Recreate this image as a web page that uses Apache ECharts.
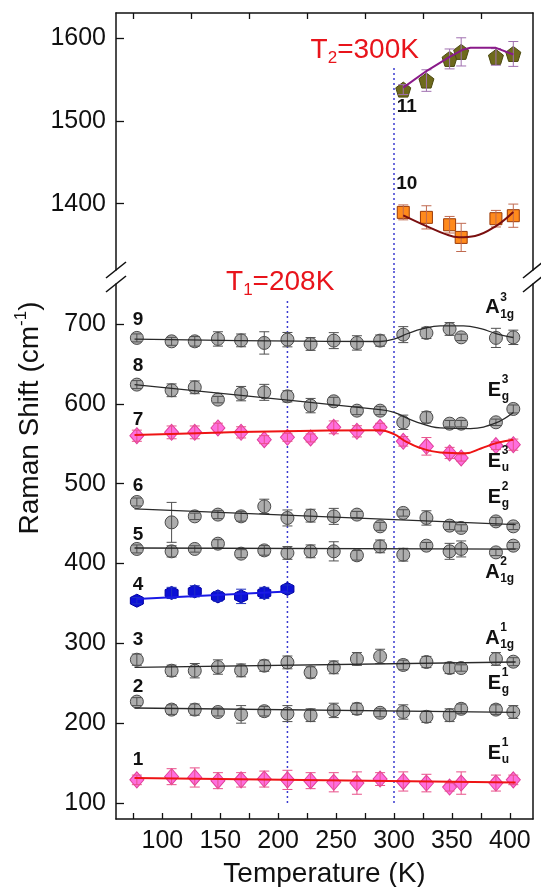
<!DOCTYPE html>
<html><head><meta charset="utf-8">
<script src="https://cdn.jsdelivr.net/npm/echarts@6/dist/echarts.min.js"></script>
<style>html,body{margin:0;padding:0;background:#fff}#c{width:541px;height:887px}</style>
</head><body><div id="c"></div>
<script>
// ---------- data ----------
const temps = [78,108,128,148,168,188,208,228,248,268,288,308,328,348,358,388,403];
const tempsLow = [78,108,128,148,168,188,208];
const tempsHigh = [308,328,348,358,388,403];

const s1 = [129,133,132,128,129,130,129,128,126,125,130,127,125,120,125,125,129];
const e1 = [6,10,12,10,9,10,12,10,12,14,8,12,11,5,14,10,6];
const s2 = [227,217,217,214,211,215,212,210,216,218,213,214,208,210,218,217,214];
const e2 = [5,6,7,5,11,6,10,8,9,7,5,9,7,8,6,6,8];
const s3 = [279.5,265.7,265.7,270.3,266.1,272,276.1,263.6,269.9,280.4,283.6,272.9,276.6,269.1,269.1,280.4,277];
const e3 = [7,7,9,9,8,7,8,7,8,8,9,6,7,7,4,8,5];
const s4 = [353.4,363.1,365.1,358.8,358.8,363.1,368.1];
const e4 = [4,7,7,6,9,7,5];
const s5 = [418.2,415.2,418.2,424.8,412.3,416.4,413.2,415.2,415.2,410.2,421.4,411,422.3,415.2,418.2,413.9,422.3];
const e5 = [5,7,4,5,5,6,8,8,12,6,8,8,4,10,10,4,4];
const s6 = [477,451.5,459,461.2,459,471.5,457,459.9,459,461.2,446.5,463.3,457,447.4,444.5,452.7,446.5];
const e6 = [5,25,4,5,6,9,10,8,10,4,5,4,9,5,4,5,4];
const s7 = [560,564.2,564.2,569.7,564.2,555.1,558,557.2,570.5,565.5,570.5,553,546.7,538.4,532.2,547.6,548.8];
const e7 = [7,8,8,6,7,5,5,5,8,7,5,6,11,7,4,5,7];
const s8 = [624,616.9,620.6,605.2,612.7,614.3,609.3,597.7,603.1,591.4,591.4,576.8,583,575.1,575.1,576.8,593.5];
const e8 = [5,8,8,4,9,10,7,9,5,5,5,9,7,4,4,4,5];
const s9 = [682.5,678.2,678.2,681.2,679.4,676.2,680.3,674.9,679.1,676.2,679.1,686.6,688.7,693.7,683.2,682.5,683.2];
const e9 = [5,5,6,9,8,14,9,8,10,9,7,10,7,8,4,12,9];
const s10 = [1389.5,1383.5,1374.6,1359.3,1381.9,1385.5];
const e10 = [9,14,10,17,10,14];
const s11 = [1537.6,1548.5,1574.6,1583.1,1577,1580.6];
const e11 = [6,13,12,17,10,15];

const fit1 = [[76,131.3],[405,125.8]];
const fit2 = [[76,219],[405,213.5]];
const fit3 = [[76,269.9],[405,276.6]];
const fit4 = [[78,355.5],[208,365]];
const fit5 = [[76,419.4],[405,418]];
const fit6 = [[76,468.3],[405,448.6]];
const fit7 = [[76,561],[288,567],[300,562],[310,553],[322,545],[340,539],[362,538],[375,544],[389,551],[403,555]];
const fit8 = [[76,624],[288,592.7],[300,589.3],[318,578],[340,569.7],[366,569],[388,576],[403,589]];
const fit9 = [[76,681],[288,678],[300,681],[312,688],[325,694],[340,697.5],[360,697.5],[375,694],[388,688],[403,683]];
const fit10 = [[308,1386],[328,1373],[345,1363],[356,1359.5],[370,1361],[388,1373],[403,1390]];
const fit11 = [[308,1540],[328,1560],[348,1577],[360,1586],[366,1588],[388,1588],[403,1580]];

const T1 = 208, T2 = 300;
const xTickLabels = [100,150,200,250,300,350,400];
const xTicks = [75,100,125,150,175,200,225,250,275,300,325,350,375,400];
const topTicks = [75,125,175,225,275,325,375];
const yTicksLow = [100,200,300,400,500,600,700];
const yTicksHigh = [1400,1500,1600];

const modeNums = [
  {t:'9',x:79,y:705,g:1},{t:'8',x:79,y:647,g:1},{t:'7',x:79,y:580,g:1},
  {t:'6',x:79,y:497,g:1},{t:'5',x:79,y:436,g:1},{t:'4',x:79,y:373,g:1},
  {t:'3',x:79,y:305,g:1},{t:'2',x:79,y:246,g:1},{t:'1',x:79,y:154,g:1},
  {t:'11',x:311,y:1517,g:0},{t:'10',x:311,y:1424,g:0}
];
const modeLabels = [
  {m:'A',sup:'3',sub:'1g',x:378.7,y:720},
  {m:'E',sup:'3',sub:'g',x:381,y:617},
  {m:'E',sup:'3',sub:'u',x:381,y:528},
  {m:'E',sup:'2',sub:'g',x:381,y:483},
  {m:'A',sup:'2',sub:'1g',x:378.7,y:389},
  {m:'A',sup:'1',sub:'1g',x:378.7,y:306},
  {m:'E',sup:'1',sub:'g',x:381,y:249.5},
  {m:'E',sup:'1',sub:'u',x:381,y:162.6}
];

// ---------- styles ----------
const FONT = '"Liberation Sans", Arial, sans-serif';
const gray = {symbol:'circle', size:13, fill:'#adadad', border:'#4a4a4a', err:'#505050', line:'#2a2a2a', lw:1.3};
const pink = {symbol:'diamond', size:[14,16], fill:'#ff6ede', border:'#e0409a', err:'#e8508a', line:'#ee1414', lw:2};
const blue = {symbol:'path://M-8.66,-5 L0,-10 L8.66,-5 L8.66,5 L0,10 L-8.66,5 Z', size:13, fill:'#0c10d6', border:'#0000a0', err:'#2030c0', line:'#1a1ae6', lw:2};
const orange = {symbol:'rect', size:12, fill:'#ff8a1c', border:'#9a3a08', err:'#c06a50', line:'#7a0f0f', lw:2};
const olive = {symbol:'path://M0,-10 L9.51,-3.09 L5.88,8.09 L-5.88,8.09 L-9.51,-3.09 Z', size:15, fill:'#6e6a1c', border:'#4c4a10', err:'#a070b0', line:'#8a1a8a', lw:2};

function errSeries(xs, ys, errs, color, xi, yi) {
  return {type:'custom', xAxisIndex:xi, yAxisIndex:yi, z:4, silent:true,
    data: xs.map((x,i)=>[x, ys[i], errs[i]]),
    encode:{x:0, y:1},
    renderItem(params, api) {
      const x = api.value(0), y = api.value(1), e = api.value(2);
      const p1 = api.coord([x, y+e]), p2 = api.coord([x, y-e]);
      const w = 5, st = {stroke:color, lineWidth:1};
      return {type:'group', children:[
        {type:'line', shape:{x1:p1[0],y1:p1[1],x2:p2[0],y2:p2[1]}, style:st},
        {type:'line', shape:{x1:p1[0]-w,y1:p1[1],x2:p1[0]+w,y2:p1[1]}, style:st},
        {type:'line', shape:{x1:p2[0]-w,y1:p2[1],x2:p2[0]+w,y2:p2[1]}, style:st}
      ]};
    }
  };
}
function group(xs, ys, errs, fit, sty, smooth, grid) {
  const xi = grid, yi = grid === 0 ? 0 : 2;
  return [
    {type:'scatter', xAxisIndex:xi, yAxisIndex:yi, z:3, silent:true,
     symbol:sty.symbol, symbolSize:sty.size,
     itemStyle:{color:sty.fill, borderColor:sty.border, borderWidth:1, opacity:1},
     data: xs.map((x,i)=>[x, ys[i]])},
    errSeries(xs, ys, errs, sty.err, xi, yi),
    {type:'line', xAxisIndex:xi, yAxisIndex:yi, z:5, silent:true, symbol:'none',
     smooth: smooth, lineStyle:{color:sty.line, width:sty.lw}, data: fit}
  ];
}

const series = [].concat(
  group(temps, s1, e1, fit1, pink, false, 1),
  group(temps, s2, e2, fit2, gray, false, 1),
  group(temps, s3, e3, fit3, gray, false, 1),
  group(tempsLow, s4, e4, fit4, blue, false, 1),
  group(temps, s5, e5, fit5, gray, false, 1),
  group(temps, s6, e6, fit6, gray, false, 1),
  group(temps, s7, e7, fit7, pink, 0.4, 1),
  group(temps, s8, e8, fit8, gray, 0.4, 1),
  group(temps, s9, e9, fit9, gray, 0.4, 1),
  group(tempsHigh, s10, e10, fit10, orange, 0.4, 0),
  group(tempsHigh, s11, e11, fit11, olive, false, 0),
  [
    {type:'line', xAxisIndex:1, yAxisIndex:2, z:1, silent:true, symbol:'none', clip:false,
     lineStyle:{color:'#3a3ad0', width:1.5, type:[2,3]}, data:[[T1,100],[T1,730]]},
    {type:'line', xAxisIndex:1, yAxisIndex:2, z:1, silent:true, symbol:'none', clip:false,
     lineStyle:{color:'#3a3ad0', width:1.5, type:[2,3]}, data:[[T2,100],[T2,770]]},
    {type:'line', xAxisIndex:0, yAxisIndex:0, z:1, silent:true, symbol:'none',
     lineStyle:{color:'#3a3ad0', width:1.5, type:[2,3]}, data:[[T2,1320],[T2,1564]]}
  ]
);

const axisLine = {show:true, onZero:false, lineStyle:{color:'#111', width:1.5}};
const labelStyle = {color:'#111', fontFamily:FONT, fontSize:25, formatter:(v)=>String(v)};
const option = {
  animation:false,
  backgroundColor:'#fff',
  grid:[
    {left:116, right:8, top:13, height:257},
    {left:116, right:8, top:284, height:535}
  ],
  xAxis:[
    {gridIndex:0, type:'value', position:'top', min:60, max:420, axisLine,
     splitLine:{show:false}, axisLabel:{show:false},
     axisTick:{show:true, inside:true, length:6, customValues:topTicks, lineStyle:{color:'#111', width:1.3}}},
    {gridIndex:1, type:'value', position:'bottom', min:60, max:420, axisLine,
     splitLine:{show:false},
     axisLabel:Object.assign({customValues:xTickLabels, margin:10}, labelStyle),
     axisTick:{show:true, inside:true, length:6, customValues:xTicks, lineStyle:{color:'#111', width:1.3}}}
  ],
  yAxis:[
    {gridIndex:0, type:'value', position:'left', min:1320, max:1630, axisLine,
     splitLine:{show:false},
     axisLabel:Object.assign({customValues:yTicksHigh, margin:10}, labelStyle),
     axisTick:{show:true, inside:true, length:8, customValues:yTicksHigh, lineStyle:{color:'#111', width:1.3}}},
    {gridIndex:0, type:'value', position:'right', min:1320, max:1630, axisLine,
     splitLine:{show:false}, axisLabel:{show:false}, axisTick:{show:false}},
    {gridIndex:1, type:'value', position:'left', min:80, max:750, axisLine,
     splitLine:{show:false},
     axisLabel:Object.assign({customValues:yTicksLow, margin:10}, labelStyle),
     axisTick:{show:true, inside:true, length:8, customValues:yTicksLow, lineStyle:{color:'#111', width:1.3}}},
    {gridIndex:1, type:'value', position:'right', min:80, max:750, axisLine,
     splitLine:{show:false}, axisLabel:{show:false}, axisTick:{show:false}}
  ],
  series
};

const chart = echarts.init(document.getElementById('c'));
chart.setOption(option);

// ---------- annotations placed through the axes ----------
const px = (g, v) => chart.convertToPixel({gridIndex:g}, v);
const gfx = [];
const topBL = px(0,[60,1320]), topBR = px(0,[420,1320]);
const botTL = px(1,[60,750]), botTR = px(1,[420,750]);
[topBL, topBR, botTL, botTR].forEach((p)=>{
  gfx.push({type:'line', shape:{x1:p[0]-10, y1:p[1]+8, x2:p[0]+10, y2:p[1]-8},
            style:{stroke:'#111', lineWidth:1.6}, z:10});
});

modeNums.forEach(n=>{
  const p = px(n.g, [n.x, n.y]);
  gfx.push({type:'text', x:p[0], y:p[1], z:10,
    style:{text:n.t, fontFamily:FONT, fontWeight:'bold', fontSize:19, fill:'#111',
           align:'center', verticalAlign:'middle'}});
});
const letterW = {A:14.5, E:13.5};
modeLabels.forEach(l=>{
  const p = px(1, [l.x, l.y]);
  gfx.push({type:'text', x:p[0], y:p[1], z:10,
    style:{text:l.m, fontFamily:FONT, fontWeight:'bold', fontSize:20, fill:'#111',
           align:'left', verticalAlign:'middle'}});
  gfx.push({type:'text', x:p[0]+letterW[l.m]+0.5, y:p[1]-2, z:10,
    style:{text:l.sup+'\n'+l.sub, fontFamily:FONT, fontWeight:'bold', fontSize:12, lineHeight:17,
           fill:'#111', align:'left', verticalAlign:'middle'}});
});

function tLabel(g, x, y, sub, rest) {
  const p = px(g, [x, y]);
  gfx.push({type:'text', x:p[0], y:p[1], z:10,
    style:{text:'{a|T}{s|'+sub+'}{a|'+rest+'}', align:'left', verticalAlign:'middle',
      rich:{a:{fontFamily:FONT, fontSize:28, fill:'#e8141b', lineHeight:34, verticalAlign:'middle'},
            s:{fontFamily:FONT, fontSize:17, fill:'#e8141b', verticalAlign:'bottom', lineHeight:34}}}});
}
tLabel(1, 155, 752.5, '1', '=208K');
tLabel(0, 228, 1585.4, '2', '=300K');

const cx = (px(1,[60,80])[0] + px(1,[420,80])[0]) / 2;
gfx.push({type:'text', x:cx, y:874, z:10,
  style:{text:'Temperature (K)', fontFamily:FONT, fontSize:28, fill:'#111', align:'center', verticalAlign:'middle'}});
gfx.push({type:'text', x:30, y:418, rotation:Math.PI/2, z:10,
  style:{text:'{a|Raman Shift (cm}{s|-1}{a|)}', align:'center', verticalAlign:'middle',
    rich:{a:{fontFamily:FONT, fontSize:28, fill:'#111', lineHeight:34, verticalAlign:'middle'},
          s:{fontFamily:FONT, fontSize:17, fill:'#111', verticalAlign:'top', lineHeight:34}}}});

chart.setOption({graphic:{elements:gfx}});
</script></body></html>
